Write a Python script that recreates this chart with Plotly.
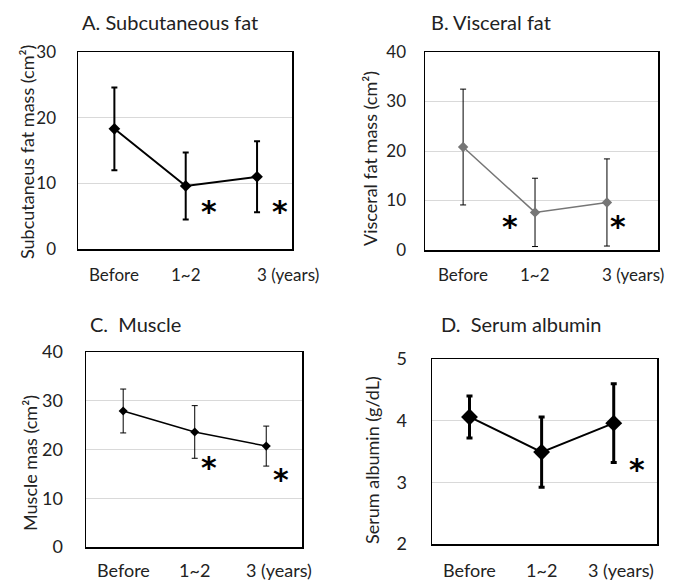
import plotly.graph_objects as go

# ---------------- data ----------------
categories = ["Before", "1~2", "3 (years)"]

subcut_mean = [18.3, 9.6, 11.0]
subcut_sd = [6.3, 5.1, 5.4]

visceral_mean = [20.8, 7.6, 9.6]
visceral_sd = [11.7, 6.9, 8.8]

muscle_mean = [27.9, 23.6, 20.7]
muscle_sd = [4.5, 5.4, 4.1]

albumin_mean = [4.06, 3.49, 3.96]
albumin_sd = [0.34, 0.57, 0.64]

W, H = 684, 582
FONT = "Lato"

def px_x(a, b):
    return [a / W, b / W]

def px_y(top, bottom):
    return [1 - bottom / H, 1 - top / H]

panels = [
    dict(name="A", title="A. Subcutaneous fat", ytitle="Subcutaneus fat mass (cm²)",
         mean=subcut_mean, sd=subcut_sd, yrange=[0, 30], dtick=10,
         xdom=px_x(78, 292), ydom=px_y(52, 249), xrange=[-0.51, 2.49],
         color="black", lw=2, msize=9, ethick=2, ewidth=3,
         title_xy=(80, 22), ytitle_xy=(27, 152), tick_standoff=17, tickfont=17,
         xlab_y=274, last_shift=31,
         stars=[(1.33, 6.7), (2.32, 6.7)]),
    dict(name="B", title="B. Visceral fat", ytitle="Visceral fat mass (cm²)",
         mean=visceral_mean, sd=visceral_sd, yrange=[0, 40], dtick=10,
         xdom=px_x(425, 658), ydom=px_y(52, 250), xrange=[-0.53, 2.71],
         color="#767676", lw=1.5, msize=8, ethick=1, ewidth=3,
         title_xy=(429, 22), ytitle_xy=(370, 159), tick_standoff=14, tickfont=17,
         xlab_y=274, last_shift=26,
         stars=[(0.65, 6.0), (2.15, 6.0)]),
    dict(name="C", title="C.  Muscle", ytitle="Muscle mas (cm²)",
         mean=muscle_mean, sd=muscle_sd, yrange=[0, 40], dtick=10,
         xdom=px_x(86, 302), ydom=px_y(352, 547), xrange=[-0.52, 2.5],
         color="black", lw=1.5, msize=7, ethick=1, ewidth=3,
         title_xy=(88, 324), ytitle_xy=(30, 463), tick_standoff=18, tickfont=18,
         xlab_y=570, last_shift=13,
         stars=[(1.2, 17.6), (2.2, 15.0)]),
    dict(name="D", title="D.  Serum albumin", ytitle="Serum albumin (g/dL)",
         mean=albumin_mean, sd=albumin_sd, yrange=[2, 5], dtick=1,
         xdom=px_x(432, 657), ydom=px_y(359, 544), xrange=[-0.52, 2.6],
         color="black", lw=2, msize=13, ethick=3, ewidth=3,
         title_xy=(439, 324), ytitle_xy=(372, 460), tick_standoff=20, tickfont=18,
         xlab_y=570, last_shift=7,
         stars=[(2.32, 3.31)]),
]

fig = go.Figure()
annotations = []
x_idx = list(range(len(categories)))

for i, p in enumerate(panels):
    n = "" if i == 0 else str(i + 1)
    xa, ya = "x" + n, "y" + n
    fig.add_trace(go.Scatter(
        x=x_idx, y=p["mean"], xaxis=xa, yaxis=ya, mode="lines+markers",
        line=dict(color=p["color"], width=p["lw"]),
        marker=dict(symbol="diamond", size=p["msize"], color=p["color"]),
        error_y=dict(type="data", array=p["sd"], symmetric=True,
                     color="black", thickness=p["ethick"], width=p["ewidth"]),
        showlegend=False, hoverinfo="skip"))

    fig.layout["xaxis" + n] = dict(
        domain=p["xdom"], range=p["xrange"], anchor=ya, automargin=False,
        showticklabels=False, showgrid=False, zeroline=False,
        showline=True, mirror=True, linecolor="black", linewidth=1.5, ticks="")
    fig.layout["yaxis" + n] = dict(
        domain=p["ydom"], range=p["yrange"], dtick=p["dtick"], anchor=xa,
        automargin=False,
        showgrid=True, gridcolor="#d9d9d9", gridwidth=1, zeroline=False,
        showline=True, mirror=True, linecolor="black", linewidth=1.5, ticks="",
        ticklabelstandoff=p["tick_standoff"],
        tickfont=dict(family=FONT, size=p["tickfont"], color="#222"))

    # panel title
    annotations.append(dict(
        text=p["title"], xref="paper", yref="paper",
        x=p["title_xy"][0] / W, y=1 - p["title_xy"][1] / H,
        xanchor="left", yanchor="middle", showarrow=False,
        font=dict(family=FONT, size=20, color="#222")))
    # y title
    annotations.append(dict(
        text=p["ytitle"], xref="paper", yref="paper",
        x=p["ytitle_xy"][0] / W, y=1 - p["ytitle_xy"][1] / H,
        xanchor="center", yanchor="middle", textangle=-90, showarrow=False,
        font=dict(family=FONT, size=18, color="#222")))
    # x category labels
    for k, cat in enumerate(categories):
        annotations.append(dict(
            text=cat, xref=xa, yref="paper", x=k, y=1 - p["xlab_y"] / H,
            xanchor="center", yanchor="middle", showarrow=False,
            xshift=p["last_shift"] if k == len(categories) - 1 else 0,
            font=dict(family=FONT, size=p["tickfont"], color="#222")))
    # significance asterisks
    for sx, sy in p["stars"]:
        annotations.append(dict(
            text="*", xref=xa, yref=ya, x=sx, y=sy,
            xanchor="center", yanchor="middle", yshift=-6, showarrow=False,
            font=dict(family="DejaVu Sans", size=30, color="black", weight="bold")))

fig.update_layout(
    width=W, height=H, margin=dict(l=0, r=0, t=0, b=0, pad=0),
    paper_bgcolor="white", plot_bgcolor="white",
    annotations=annotations, font=dict(family=FONT))

fig.write_html("out.html",
               config={"displayModeBar": False, "staticPlot": True},
               post_script="document.body.style.margin='0px';"
                           "document.body.style.overflow='hidden';")
